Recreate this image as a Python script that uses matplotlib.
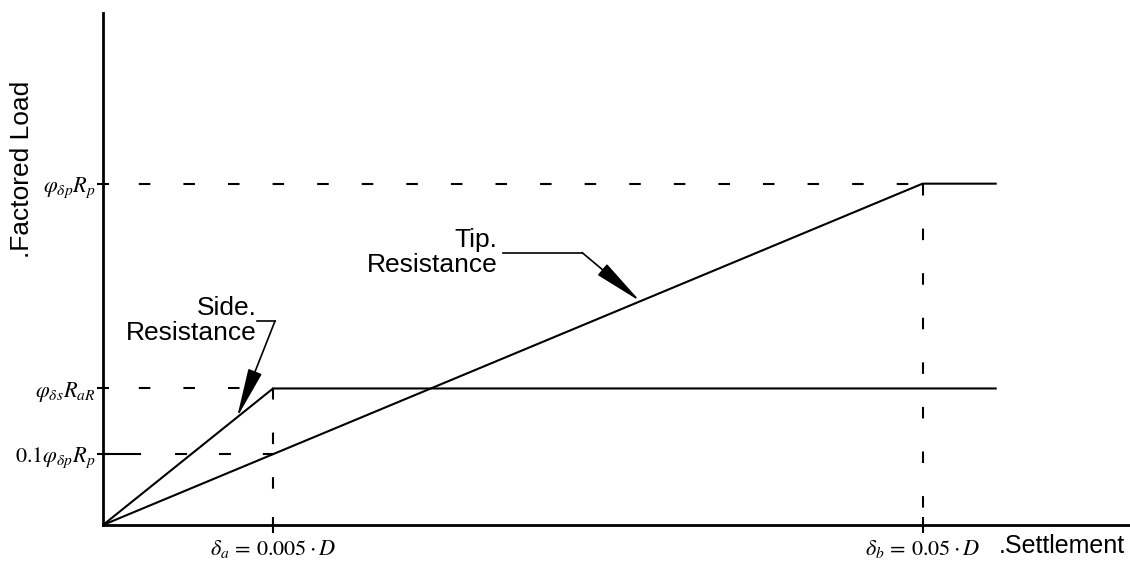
import matplotlib.pyplot as plt
import numpy as np

plt.rcParams['mathtext.fontset'] = 'stix'
plt.rcParams['font.family'] = ['Liberation Sans', 'DejaVu Sans']
plt.rcParams['lines.scale_dashes'] = False

# schematic settlement axis, delta_a taken as one unit (not to scale)
x_delta_a = 1.0
x_delta_b = 4.82
x_plateau_end = 5.25

# factored loads normalised by phi_dp * R_p
load_tip = 1.0
load_side = 0.40

side_x = [0.0, x_delta_a, x_plateau_end]
side_y = [0.0, load_side, load_side]
tip_x = [0.0, x_delta_b, x_plateau_end]
tip_y = [0.0, load_tip, load_tip]

# tip resistance already mobilised when the side reaches delta_a
load_tip_at_a = np.interp(x_delta_a, tip_x, tip_y)

ytick_vals = [load_tip_at_a, load_side, load_tip]
ytick_labels = [r'$0.1\varphi_{\delta p}R_p$',
                r'$\varphi_{\delta s}R_{aR}$',
                r'$\varphi_{\delta p}R_p$']
xtick_vals = [x_delta_a, x_delta_b]
xtick_labels = [r'$\delta_a\,=\,0.005 \cdot D$',
                r'$\delta_b\,=\,0.05 \cdot D$']

W, H = 1130, 569
fig = plt.figure(figsize=(W / 100, H / 100), dpi=100)
ax = fig.add_axes([103 / W, 44 / H, 1027 / W, 512 / H])
ax.set_xlim(0, 6.04)
ax.set_ylim(0, 1.50)

for s in ['top', 'right']:
    ax.spines[s].set_visible(False)
for s in ['left', 'bottom']:
    ax.spines[s].set_linewidth(2.0)

lw = 1.5
dash = (8.3, 23.8)

# guide lines
ax.plot([0, x_delta_b], [load_tip, load_tip], color='k', lw=lw,
        linestyle=(6.3, dash))
ax.plot([0, x_delta_a], [load_side, load_side], color='k', lw=lw,
        linestyle=(6.3, dash))
ax.plot([0, x_delta_a], [load_tip_at_a, load_tip_at_a], color='k', lw=lw,
        linestyle=(0, (27.4, 24.5, 8.6, 23.0, 8.6, 23.0, 8.6, 23.0)))
ax.plot([x_delta_a, x_delta_a], [load_side, 0], color='k', lw=lw,
        linestyle=(0, dash))
ax.plot([x_delta_b, x_delta_b], [load_tip, 0], color='k', lw=lw,
        linestyle=(0, dash))

# resistance curves
ax.plot(side_x, side_y, color='k', lw=lw, solid_joinstyle='miter')
ax.plot(tip_x, tip_y, color='k', lw=lw, solid_joinstyle='miter')

ax.set_xticks(xtick_vals)
ax.set_xticklabels(xtick_labels, fontsize=16)
ax.set_yticks(ytick_vals)
ax.set_yticklabels(ytick_labels, fontsize=16)
ax.tick_params(axis='x', direction='inout', length=11, width=1.5, pad=4)
ax.tick_params(axis='y', direction='inout', length=8, width=1.5, pad=1.5)

# callouts with leader and arrow onto each curve
arrow = dict(arrowstyle='-|>,head_length=2.2,head_width=0.32',
             mutation_scale=14, color='k', lw=1.2, shrinkA=0, shrinkB=0)

side_arrow_x = 0.788
side_arrow_y = np.interp(side_arrow_x, side_x, side_y)
ax.text(0.906, 0.598, 'Side.\nResistance', ha='right', va='center',
        multialignment='right', fontsize=19, linespacing=1.05)
ax.plot([0.906, 1.012], [0.598, 0.598], color='k', lw=1.2)
ax.annotate('', xy=(side_arrow_x, side_arrow_y), xytext=(1.012, 0.598),
            arrowprops=arrow)

tip_arrow_x = 3.159
tip_arrow_y = np.interp(tip_arrow_x, tip_x, tip_y)
ax.text(2.318, 0.798, 'Tip.\nResistance', ha='right', va='center',
        multialignment='right', fontsize=19, linespacing=1.05)
ax.plot([2.353, 2.818], [0.798, 0.798], color='k', lw=1.2)
ax.annotate('', xy=(tip_arrow_x, tip_arrow_y), xytext=(2.818, 0.798),
            arrowprops=arrow)

fig.text(22.5 / W, 1 - 169 / H, '.Factored Load', rotation=90,
         ha='center', va='center', fontsize=19)
fig.text(1125 / W, 1 - 553 / H, '.Settlement', ha='right', va='baseline',
         fontsize=18)

fig.savefig('out.png', dpi=100)
